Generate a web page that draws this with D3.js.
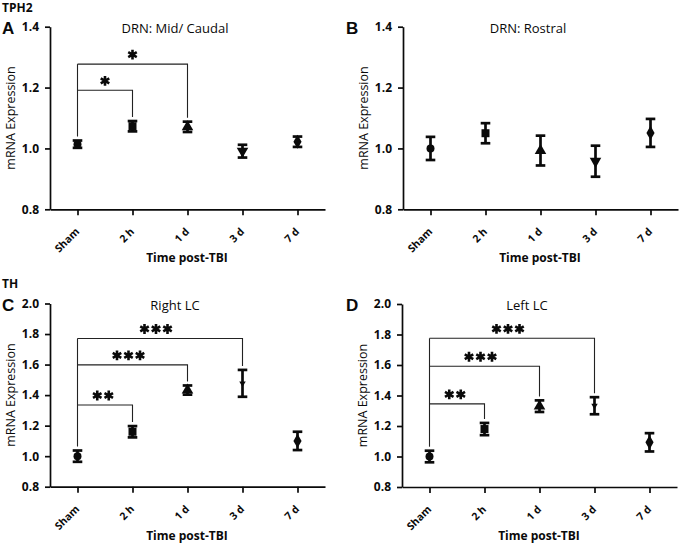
<!DOCTYPE html>
<html>
<head>
<meta charset="utf-8">
<script src="https://cdn.jsdelivr.net/npm/d3@7"></script>
<style>
  html, body { margin: 0; padding: 0; background: #fff; }
  svg { display: block; }
</style>
</head>
<body>
<svg id="chart" width="680" height="547"></svg>
<script>
// ---------------- DATA ----------------
const categories = ["Sham", "2 h", "1 d", "3 d", "7 d"];

const meanA = [1.014, 1.073, 1.071, 0.991, 1.022];
const errA  = [0.012, 0.017, 0.017, 0.021, 0.017];

const meanB = [1.000, 1.050, 0.993, 0.958, 1.051];
const errB  = [0.038, 0.033, 0.049, 0.051, 0.046];

const meanC = [1.000, 1.160, 1.433, 1.477, 1.100];
const errC  = [0.037, 0.037, 0.030, 0.088, 0.060];

const meanD = [1.000, 1.180, 1.330, 1.333, 1.093];
const errD  = [0.038, 0.040, 0.038, 0.056, 0.060];

const ticksTop = [0.8, 1.0, 1.2, 1.4];
const ticksBottom = [0.8, 1.0, 1.2, 1.4, 1.6, 1.8, 2.0];

// brackets: comparison Sham vs category index, bracket level, label
const bracketsA = [
  { to: 1, level: 1.191, label: "*" },
  { to: 2, level: 1.277, label: "*" }
];
const bracketsB = [];
const bracketsC = [
  { to: 1, level: 1.335, label: "**" },
  { to: 2, level: 1.598, label: "***" },
  { to: 3, level: 1.771, label: "***" }
];
const bracketsD = [
  { to: 1, level: 1.345, label: "**" },
  { to: 2, level: 1.592, label: "***" },
  { to: 3, level: 1.775, label: "***" }
];

const titles = ["DRN: Mid/ Caudal", "DRN: Rostral", "Right LC", "Left LC"];
const letters = ["A", "B", "C", "D"];
const groupLabels = ["TPH2", "TH"];
const yLabel = "mRNA Expression";
const xLabel = "Time post-TBI";

// ---------------- DRAWING ----------------
const svg = d3.select("#chart");
const FONT = "'Open Sans', 'Noto Sans', sans-serif";
const INK = "#0a0a0a";

const markerTypes = [d3.symbolCircle, d3.symbolSquare, d3.symbolTriangle, "down", d3.symbolDiamond];

const panels = [
  { x0: 50,  x1: 325, yTop: 26.7,  yBot: 209.3, domain: [0.8, 1.4], ticks: ticksTop,    mean: meanA, err: errA, br: bracketsA },
  { x0: 403, x1: 678, yTop: 26.7,  yBot: 209.3, domain: [0.8, 1.4], ticks: ticksTop,    mean: meanB, err: errB, br: bracketsB },
  { x0: 50,  x1: 325, yTop: 303.5, yBot: 486.7, domain: [0.8, 2.0], ticks: ticksBottom, mean: meanC, err: errC, br: bracketsC },
  { x0: 402, x1: 677, yTop: 304,   yBot: 487,   domain: [0.8, 2.0], ticks: ticksBottom, mean: meanD, err: errD, br: bracketsD }
];

// group labels
svg.append("text").attr("x", 2).attr("y", 12).text(groupLabels[0])
  .attr("font-family", FONT).attr("font-weight", "bold").attr("font-size", 12).attr("fill", INK);
svg.append("text").attr("x", 2).attr("y", 288).text(groupLabels[1])
  .attr("font-family", FONT).attr("font-weight", "bold").attr("font-size", 12).attr("fill", INK);

panels.forEach((p, i) => {
  const g = svg.append("g");
  const x = d3.scalePoint().domain(categories).range([p.x0, p.x1]).padding(0.5);
  const y = d3.scaleLinear().domain(p.domain).range([p.yBot, p.yTop]);

  // y axis
  const ya = g.append("g").attr("transform", `translate(${p.x0},0)`)
    .call(d3.axisLeft(y).tickValues(p.ticks).tickFormat(d3.format(".1f")).tickSize(5).tickPadding(6).tickSizeOuter(0));
  // x axis
  const xa = g.append("g").attr("transform", `translate(0,${p.yBot})`)
    .call(d3.axisBottom(x).tickSize(6).tickSizeOuter(0));
  [ya, xa].forEach(a => {
    a.select(".domain").attr("stroke", INK).attr("stroke-width", 1.7);
    a.selectAll(".tick line").attr("stroke", INK).attr("stroke-width", 1.7);
    a.selectAll("text").attr("font-family", FONT).attr("font-weight", "bold").attr("fill", INK);
  });
  ya.selectAll("text").attr("font-size", 12);
  xa.selectAll("text")
    .attr("font-size", 10.5)
    .attr("text-anchor", "end")
    .attr("y", 0).attr("dy", 0)
    .attr("transform", "translate(2,23) rotate(-45)");

  // panel letter
  g.append("text").attr("x", i % 2 === 0 ? 2 : 346).attr("y", p.yTop + 7)
    .text(letters[i]).attr("font-family", "'Liberation Sans', Arial, sans-serif")
    .attr("font-weight", "bold").attr("font-size", 17).attr("fill", INK);

  // title
  g.append("text").attr("x", p.x0 + 125).attr("y", p.yTop + 6)
    .attr("text-anchor", "middle").text(titles[i])
    .attr("font-family", FONT).attr("font-weight", 500).attr("font-size", 13).attr("fill", INK);

  // axis titles
  g.append("text")
    .attr("transform", `translate(${p.x0 - 35},${(p.yTop + p.yBot) / 2}) rotate(-90)`)
    .attr("text-anchor", "middle").text(yLabel)
    .attr("font-family", FONT).attr("font-weight", 500).attr("font-size", 12.5).attr("fill", INK);
  g.append("text").attr("x", p.x0 + 137).attr("y", p.yBot + 53)
    .attr("text-anchor", "middle").text(xLabel)
    .attr("font-family", FONT).attr("font-weight", "bold").attr("font-size", 12).attr("fill", INK);

  // brackets
  p.br.forEach(b => {
    const xs = x(categories[0]), xe = x(categories[b.to]);
    const yl = y(b.level);
    const yEnd = y(p.mean[b.to] + p.err[b.to]) - 4;
    g.append("path")
      .attr("d", `M${xs},${yl}H${xe}V${yEnd}`)
      .attr("fill", "none").attr("stroke", "#222").attr("stroke-width", 1.1);
    const n = b.label.length;
    const cx = (xs + xe) / 2 - (n - 1) * 2;
    const sp = 11.5;
    for (let k = 0; k < n; k++) {
      g.append("path")
        .attr("d", d3.symbol().type(d3.symbolAsterisk).size(68)())
        .attr("transform", `translate(${cx + (k - (n - 1) / 2) * sp},${yl - 9.5})`)
        .attr("fill", "none").attr("stroke", INK).attr("stroke-width", 2.6);
    }
  });
  // sham vertical
  if (p.br.length) {
    const top = d3.max(p.br, b => b.level);
    g.append("line")
      .attr("x1", x(categories[0])).attr("x2", x(categories[0]))
      .attr("y1", y(top)).attr("y2", y(p.mean[0] + p.err[0]) - 4)
      .attr("stroke", "#222").attr("stroke-width", 1.1);
  }

  // error bars
  categories.forEach((c, j) => {
    const cxp = x(c);
    const hi = y(p.mean[j] + p.err[j]), lo = y(p.mean[j] - p.err[j]);
    g.append("line").attr("x1", cxp).attr("x2", cxp).attr("y1", hi).attr("y2", lo)
      .attr("stroke", INK).attr("stroke-width", 2.7);
    [hi, lo].forEach(yy => g.append("line")
      .attr("x1", cxp - 4.8).attr("x2", cxp + 4.8).attr("y1", yy).attr("y2", yy)
      .attr("stroke", INK).attr("stroke-width", 2.7));
    const t = markerTypes[j];
    const small = (j === 3 && i >= 2);
    const sym = t === "down" ? d3.symbolTriangle : t;
    const size = small ? 18 : (j === 1 ? 64 : (j === 0 ? 50 : 58));
    g.append("path")
      .attr("d", d3.symbol().type(sym).size(size)())
      .attr("transform", `translate(${cxp},${y(p.mean[j])})${t === "down" ? " rotate(180)" : ""}`)
      .attr("fill", INK);
  });
});
</script>
</body>
</html>
